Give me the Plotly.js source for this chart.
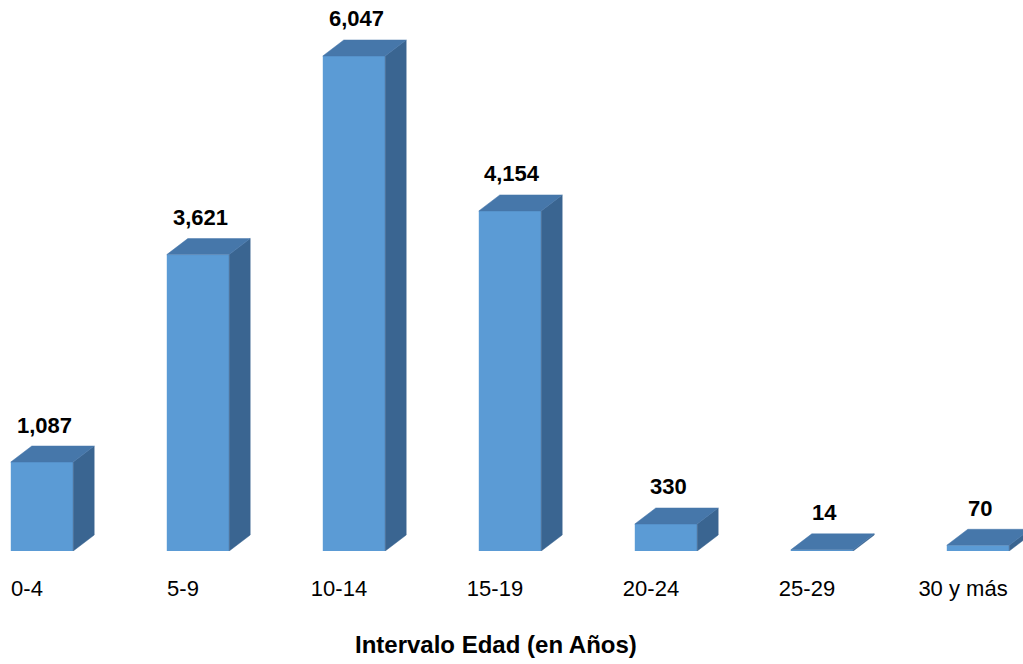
<!DOCTYPE html>
<html>
<head>
<meta charset="utf-8">
<script src="https://cdn.plot.ly/plotly-3.0.1.min.js"></script>
<style>html,body{margin:0;padding:0;background:#fff;}#chart{width:1023px;height:664px;}</style>
</head>
<body>
<div id="chart"></div>
<script>
// ---- data ----
const categories = ["0-4", "5-9", "10-14", "15-19", "20-24", "25-29", "30 y más"];
const values = [1087, 3621, 6047, 4154, 330, 14, 70];
const axisTitle = "Intervalo Edad (en Años)";

// ---- style / geometry constants ----
const W = 1023, H = 664;
const margin = {l: 0, r: 0, t: 0, b: 113};
const plotW = W - margin.l - margin.r, plotH = H - margin.t - margin.b;
const xPxPerCat = 156, xFirstPx = 42;
const xRange = [-xFirstPx / xPxPerCat, (plotW - xFirstPx) / xPxPerCat];
const yMax = 6731;
const barW = 0.4;
const depthXpx = 21, depthYpx = 16;
const dX = depthXpx / xPxPerCat;
const dY = depthYpx * yMax / plotH;
const frontColor = "#5B9BD5", topColor = "#4677AA", sideColor = "#3A6591";

const xs = categories.map((c, i) => i);

// build 3D faces from data
const topX = [], topY = [], sideX = [], sideY = [];
xs.forEach((x, i) => {
  const v = values[i];
  const l = x - barW / 2, r = x + barW / 2;
  topX.push(l, r, r + dX, l + dX, l, null);
  topY.push(v, v, v + dY, v + dY, v, null);
  sideX.push(r, r + dX, r + dX, r, r, null);
  sideY.push(0, dY, v + dY, v, 0, null);
});

const data = [
  {type: "scatter", x: sideX, y: sideY, mode: "lines", fill: "toself",
   fillcolor: sideColor, line: {color: sideColor, width: 0.5}, hoverinfo: "skip", showlegend: false},
  {type: "scatter", x: topX, y: topY, mode: "lines", fill: "toself",
   fillcolor: topColor, line: {color: topColor, width: 0.5}, hoverinfo: "skip", showlegend: false},
  {type: "bar", x: xs, y: values, width: barW, marker: {color: frontColor, line: {width: 0}},
   hoverinfo: "x+y", showlegend: false}
];

const annotations = xs.map((x, i) => ({
  x: x, y: values[i], xref: "x", yref: "y",
  text: values[i].toLocaleString("en-US"),
  showarrow: false, yshift: 37, xshift: 2, yanchor: "middle",
  font: {family: "Liberation Sans, Arial, sans-serif", size: 22, color: "#000", weight: "bold"}
}));
annotations.push({
  x: 495.5 / W, y: 0, xref: "paper", yref: "paper", yshift: -93,
  text: "<b>" + axisTitle + "</b>", showarrow: false, yanchor: "middle",
  font: {family: "Liberation Sans, Arial, sans-serif", size: 24, color: "#000"}
});

const layout = {
  width: W, height: H, margin: margin,
  paper_bgcolor: "#fff", plot_bgcolor: "#fff",
  showlegend: false,
  xaxis: {range: xRange, tickvals: xs, ticktext: categories, showgrid: false, zeroline: false,
          showline: false, ticks: "", ticklabelshift: -15, ticklabelstandoff: 22,
          tickfont: {family: "Liberation Sans, Arial, sans-serif", size: 22, color: "#000"},
          fixedrange: true},
  yaxis: {range: [0, yMax], visible: false, showgrid: false, zeroline: false, fixedrange: true},
  annotations: annotations
};

Plotly.newPlot("chart", data, layout, {displayModeBar: false, staticPlot: true});
</script>
</body>
</html>
